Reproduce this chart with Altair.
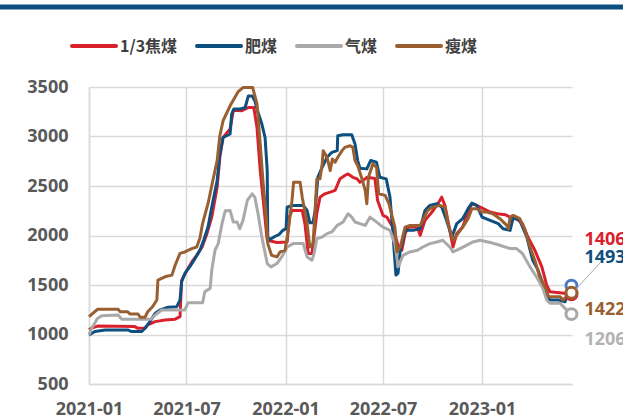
import altair as alt
import pandas as pd

names = ["1/3焦煤", "肥煤", "气煤", "瘦煤"]
colors = ["#d9202b", "#0c4f80", "#a9a9a9", "#9a5f30"]
circle_colors = ["#d9202b", "#4a78c8", "#a9a9a9", "#9a5f30"]
label_colors = ["#d9202b", "#0c4f80", "#b3b3b3", "#9a5f30"]

red_dates = ["2021-01-01","2021-01-06","2021-01-17","2021-03-27","2021-04-02","2021-04-15","2021-04-20","2021-05-04","2021-05-22","2021-06-10","2021-06-19","2021-06-22","2021-07-02","2021-07-11","2021-07-20","2021-07-30","2021-08-08","2021-08-17","2021-08-27","2021-09-01","2021-09-07","2021-09-20","2021-09-26","2021-10-12","2021-10-24","2021-11-03","2021-11-09","2021-11-15","2021-11-20","2021-11-28","2021-12-16","2022-01-04","2022-01-08","2022-01-13","2022-02-01","2022-02-06","2022-02-12","2022-02-19","2022-02-22","2022-02-28","2022-03-06","2022-03-15","2022-03-25","2022-04-03","2022-04-12","2022-04-21","2022-04-27","2022-05-06","2022-05-14","2022-05-19","2022-05-25","2022-06-01","2022-06-16","2022-06-21","2022-07-01","2022-07-08","2022-07-19","2022-07-29","2022-08-05","2022-08-11","2022-08-17","2022-09-03","2022-09-08","2022-09-17","2022-09-30","2022-10-11","2022-10-18","2022-10-24","2022-11-02","2022-11-08","2022-11-15","2022-11-26","2022-12-06","2022-12-13","2022-12-22","2023-01-03","2023-01-16","2023-01-29","2023-02-13","2023-02-22","2023-03-08","2023-03-17","2023-03-27","2023-04-09","2023-04-22","2023-05-01","2023-05-07","2023-06-07","2023-06-16"]
red_vals = [1050,1065,1085,1080,1062,1065,1097,1130,1147,1155,1180,1545,1650,1733,1800,1884,2019,2186,2488,2790,2990,3076,3266,3260,3293,3293,3092,2656,2387,1952,1930,1935,2186,2253,2253,2120,1818,1818,1952,2220,2387,2421,2438,2455,2572,2606,2622,2588,2572,2538,2555,2588,2575,2354,2203,2186,2085,1901,1851,2019,2085,2085,2002,2153,2237,2321,2387,2304,2052,1884,2019,2085,2237,2321,2304,2271,2237,2220,2210,2186,2160,2120,1985,1851,1683,1499,1432,1415,1406]

blue_dates = ["2021-01-01","2021-01-12","2021-01-31","2021-03-14","2021-03-21","2021-04-09","2021-04-15","2021-04-24","2021-05-04","2021-05-13","2021-05-28","2021-06-13","2021-06-19","2021-06-22","2021-06-28","2021-07-08","2021-07-15","2021-07-26","2021-08-02","2021-08-10","2021-08-17","2021-08-27","2021-09-01","2021-09-07","2021-09-20","2021-09-23","2021-09-27","2021-10-08","2021-10-18","2021-10-24","2021-10-31","2021-11-05","2021-11-11","2021-11-18","2021-11-24","2021-11-28","2021-11-29","2021-12-03","2021-12-12","2021-12-20","2021-12-27","2022-01-02","2022-01-04","2022-01-13","2022-02-03","2022-02-10","2022-02-15","2022-02-21","2022-02-25","2022-03-02","2022-03-10","2022-03-19","2022-03-28","2022-04-07","2022-04-08","2022-04-18","2022-05-04","2022-05-10","2022-05-15","2022-05-19","2022-06-01","2022-06-08","2022-06-19","2022-06-25","2022-07-07","2022-07-14","2022-07-19","2022-07-25","2022-07-29","2022-08-02","2022-08-11","2022-08-26","2022-09-08","2022-09-17","2022-09-26","2022-10-09","2022-10-18","2022-10-27","2022-11-06","2022-11-15","2022-11-26","2022-12-06","2022-12-13","2022-12-22","2023-01-01","2023-01-16","2023-01-31","2023-02-09","2023-02-22","2023-02-28","2023-03-12","2023-03-25","2023-04-05","2023-04-15","2023-04-28","2023-05-07","2023-05-23","2023-06-04","2023-06-16"]
blue_vals = [995,1030,1046,1046,1030,1030,1063,1130,1214,1248,1275,1281,1348,1532,1617,1690,1750,1851,1952,2085,2287,2555,2824,2990,3025,3226,3277,3277,3293,3410,3410,3360,3243,3126,2990,2656,1985,1960,1990,2010,2052,2069,2287,2304,2304,2253,2130,2130,2253,2588,2689,2790,2840,2857,3008,3018,3018,2924,2757,2680,2673,2757,2740,2588,2572,2387,2052,1600,1620,1851,2052,2052,2069,2253,2304,2321,2287,2153,1985,2120,2170,2271,2327,2304,2186,2153,2120,2069,2052,2186,2153,1985,1750,1650,1449,1348,1348,1331,1493]

gray_dates = ["2021-01-01","2021-01-06","2021-01-17","2021-01-25","2021-02-24","2021-03-03","2021-04-26","2021-05-04","2021-05-16","2021-06-28","2021-07-04","2021-07-31","2021-08-04","2021-08-14","2021-08-17","2021-08-23","2021-08-29","2021-09-05","2021-09-11","2021-09-20","2021-09-26","2021-10-03","2021-10-08","2021-10-14","2021-10-22","2021-10-31","2021-11-05","2021-11-11","2021-11-18","2021-11-28","2021-12-05","2021-12-16","2021-12-25","2022-01-04","2022-01-15","2022-02-03","2022-02-10","2022-02-19","2022-02-23","2022-02-28","2022-03-10","2022-03-19","2022-03-28","2022-04-07","2022-04-18","2022-04-27","2022-05-04","2022-05-10","2022-05-19","2022-05-29","2022-06-07","2022-06-18","2022-07-01","2022-07-14","2022-07-23","2022-07-29","2022-08-07","2022-08-20","2022-09-03","2022-09-13","2022-09-26","2022-10-09","2022-10-20","2022-11-02","2022-11-08","2022-11-21","2022-12-03","2022-12-15","2022-12-28","2023-01-16","2023-02-03","2023-02-22","2023-03-06","2023-03-17","2023-03-31","2023-04-12","2023-04-24","2023-05-01","2023-05-07","2023-05-26","2023-06-04","2023-06-16"]
gray_vals = [996,1063,1164,1190,1197,1154,1154,1197,1248,1248,1320,1320,1432,1466,1650,1851,1918,2120,2250,2253,2136,2136,2069,2153,2354,2421,2387,2220,1985,1717,1683,1717,1784,1884,1918,1918,1784,1750,1818,1969,1985,2019,2036,2102,2136,2220,2186,2136,2120,2102,2186,2140,2085,2052,1918,1683,1800,1834,1851,1884,1918,1935,1952,1884,1834,1868,1901,1935,1952,1930,1901,1868,1868,1818,1683,1583,1466,1348,1315,1315,1264,1206]

brown_dates = ["2021-01-01","2021-01-17","2021-02-24","2021-02-28","2021-03-14","2021-03-18","2021-04-02","2021-04-06","2021-04-15","2021-04-20","2021-04-29","2021-05-07","2021-05-09","2021-05-22","2021-06-04","2021-06-10","2021-06-19","2021-06-28","2021-07-11","2021-07-20","2021-07-26","2021-07-31","2021-08-10","2021-08-19","2021-08-27","2021-09-01","2021-09-07","2021-09-20","2021-10-05","2021-10-14","2021-11-01","2021-11-09","2021-11-15","2021-11-20","2021-11-26","2021-11-29","2021-12-06","2021-12-16","2021-12-22","2021-12-31","2022-01-06","2022-01-13","2022-01-16","2022-01-28","2022-02-01","2022-02-10","2022-02-15","2022-02-21","2022-02-25","2022-02-28","2022-03-06","2022-03-10","2022-03-12","2022-03-19","2022-03-25","2022-03-29","2022-04-03","2022-04-08","2022-04-16","2022-04-21","2022-05-01","2022-05-06","2022-05-10","2022-05-15","2022-05-22","2022-05-29","2022-06-01","2022-06-04","2022-06-12","2022-06-19","2022-06-23","2022-07-05","2022-07-12","2022-07-23","2022-07-27","2022-08-02","2022-08-11","2022-08-20","2022-09-08","2022-09-13","2022-09-22","2022-10-02","2022-10-15","2022-10-24","2022-10-30","2022-11-08","2022-11-17","2022-11-26","2022-12-06","2022-12-13","2022-12-22","2023-01-01","2023-01-10","2023-01-21","2023-02-03","2023-02-16","2023-02-19","2023-02-22","2023-02-28","2023-03-12","2023-03-22","2023-03-31","2023-04-09","2023-04-18","2023-05-01","2023-05-04","2023-05-26","2023-05-31","2023-06-07","2023-06-16"]
brown_vals = [1180,1255,1255,1230,1230,1207,1207,1174,1174,1230,1280,1348,1550,1583,1600,1700,1820,1834,1868,1884,1972,2123,2321,2555,2756,3008,3159,3310,3453,3494,3494,3330,2924,2555,2200,1918,1800,1784,1834,1851,2052,2354,2538,2538,2387,2123,1884,1918,2253,2570,2572,2723,2857,2790,2656,2773,2740,2790,2857,2890,2907,2890,2757,2706,2588,2455,2321,2588,2723,2689,2421,2405,2321,2085,1834,1884,2085,2102,2102,2153,2253,2287,2304,2287,2120,1952,2019,2085,2170,2271,2271,2237,2237,2220,2170,2102,2069,2186,2203,2170,2052,1884,1750,1583,1449,1382,1382,1348,1382,1422]

# label offsets in order: red, blue, gray, brown
label_dy = [-54, -28, 26, 17]
tick_dates = ["2021-01-01", "2021-07-01", "2022-01-01", "2022-07-01", "2023-01-01"]
y_ticks = [500, 1000, 1500, 2000, 2500, 3000, 3500]

all_dates = [red_dates, blue_dates, gray_dates, brown_dates]
all_vals = [red_vals, blue_vals, gray_vals, brown_vals]


def ms(s):
    return int(pd.Timestamp(s, tz="UTC").value // 10**6)


W, H = 483, 297
x_scale = alt.Scale(type="utc", domain=[ms("2021-01-01"), ms("2023-06-17")])
y_scale = alt.Scale(domain=[500, 3500], nice=False, zero=False)
x_axis = alt.Axis(values=[ms(d) for d in tick_dates], title=None,
                  labelExpr="utcFormat(datum.value, '%Y-%m')",
                  labelPadding=16, labelFlush=False)
y_axis = alt.Axis(values=y_ticks, title=None, labelPadding=21, format="d")

X = alt.X("date:T", scale=x_scale, axis=x_axis)
Y = alt.Y("value:Q", scale=y_scale, axis=y_axis)

layers = []
for i, (name, d, v) in enumerate(zip(names, all_dates, all_vals)):
    df = pd.DataFrame({"date": d, "value": v, "series": name})
    layers.append(alt.Chart(df).mark_line(color=colors[i], strokeWidth=3,
                                          strokeJoin="round").encode(x=X, y=Y))

# endpoint markers
for i, (name, d, v) in enumerate(zip(names, all_dates, all_vals)):
    last = pd.DataFrame({"date": [d[-1]], "value": [v[-1]]})
    layers.append(alt.Chart(last).mark_point(shape="circle", size=120, filled=False,
                                             fill="white", fillOpacity=1,
                                             stroke=circle_colors[i], strokeWidth=3,
                                             opacity=1).encode(x=X, y=Y))

one = pd.DataFrame({"a": [0]})

# leader line
layers.append(alt.Chart(one).mark_rule(color="#a6a6a6", strokeWidth=1).encode(
    x=alt.value(487), x2=alt.value(511), y=alt.value(202), y2=alt.value(176)))

# end labels
for i, (name, d, v) in enumerate(zip(names, all_dates, all_vals)):
    last = pd.DataFrame({"date": [d[-1]], "value": [v[-1]]})
    layers.append(alt.Chart(last).mark_text(align="left", baseline="middle", dx=13, dy=label_dy[i],
                                            font="Open Sans", fontSize=18, fontWeight="bold",
                                            color=label_colors[i]).encode(
        x=X, y=Y, text=alt.Text("value:Q", format="d")))

# top bar
layers.append(alt.Chart(one).mark_rule(color="#0c4f80", strokeWidth=5).encode(
    x=alt.value(-89), x2=alt.value(534), y=alt.value(-80)))

# legend
leg_x = [-17, 108, 208, 308]
for i, name in enumerate(names):
    layers.append(alt.Chart(one).mark_rule(color=colors[i], strokeWidth=4, strokeCap="round").encode(
        x=alt.value(leg_x[i]), x2=alt.value(leg_x[i] + 44), y=alt.value(-41)))
    layers.append(alt.Chart(one).mark_text(align="left", baseline="middle", font="Noto Sans CJK SC",
                                           fontSize=16, fontWeight="bold", color="#404040",
                                           text=name).encode(
        x=alt.value(leg_x[i] + 48), y=alt.value(-40)))

chart = alt.layer(*layers).properties(
    width=W, height=H, autosize="none",
    padding={"left": 89, "top": 87, "right": 51, "bottom": 35},
    background="white"
).configure_view(stroke=None).configure_axis(
    grid=True, gridColor="#d9d9d9", gridWidth=1.5,
    domainColor="#d9d9d9", domainWidth=1.5, ticks=False,
    labelFont="Open Sans", labelFontSize=18, labelFontWeight="bold", labelColor="#595959"
)

chart.save("out.html", embed_options={"renderer": "svg", "actions": False})
